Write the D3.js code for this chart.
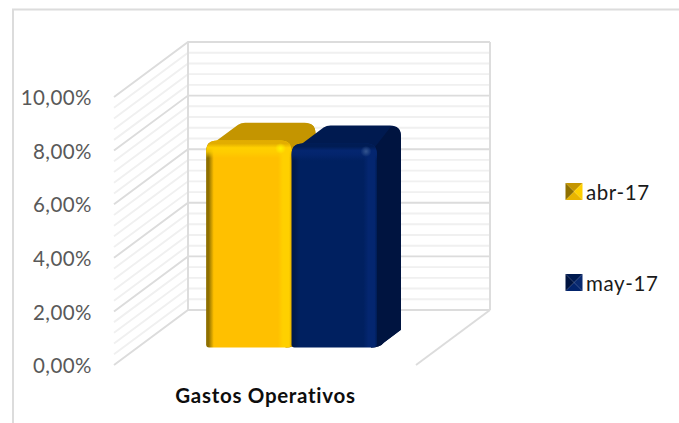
<!DOCTYPE html>
<html><head><meta charset="utf-8">
<script src="https://cdn.jsdelivr.net/npm/d3@7"></script>
<style>html,body{margin:0;padding:0;background:#fff}svg{display:block}text{font-family:Lato,"Open Sans",sans-serif}</style>
</head><body><svg id="c" width="679" height="423"></svg>
<script>
const categories = ["Gastos Operativos"];
const seriesNames = ["abr-17", "may-17"];
const seriesValues = [7.73, 7.62];
const majorTicks = [0, 2, 4, 6, 8, 10];
const minorTicks = [0.4,0.8,1.2,1.6,2.4,2.8,3.2,3.6,4.4,4.8,5.2,5.6,6.4,6.8,7.2,7.6,8.4,8.8,9.2,9.6];
const tickLabels = ["0,00%","2,00%","4,00%","6,00%","8,00%","10,00%"];
const palette = [
  {edge:"#8f7000",face:"#ffc000",hi:"#ffd000",spot:"#fff200",top:"#c49500",side:"#c49500",topEdge:"#e2ad00"},
  {edge:"#00194c",face:"#002060",hi:"#04267000",spot:"#34558f",top:"#001a50",side:"#001440",topEdge:"#001c54"}
];
palette[1].hi="#042670";
const svg = d3.select("#c");
const y = d3.scaleLinear().domain([0,10]).range([310,42]);
const xs = d3.scaleLinear().domain([0,1]).range([188,490]);
const DX=-74, DY=55;
const P=(u,v,z)=>[xs(u)+DX*z, y(v)+DY*z];
const line=d3.line();
const defs=svg.append("defs");

svg.append("path").attr("d","M13,423V9.5H679").attr("fill","none").attr("stroke","#dcdcdc").attr("stroke-width",2);

const minorC="#f0f0f0", majorC="#dcdcdc";
const wall=(t,c)=>svg.append("path").attr("d",line([P(0,t,1),P(0,t,0),P(1,t,0)])).attr("fill","none").attr("stroke",c).attr("stroke-width",1.9);
minorTicks.forEach(t=>wall(t,minorC));
majorTicks.forEach(t=>wall(t,majorC));
[[P(0,0,0),P(0,10,0)],[P(1,0,0),P(1,10,0)],[P(1,0,1),P(1,0,0)]].forEach(l=>
  svg.append("path").attr("d",line(l)).attr("fill","none").attr("stroke",majorC).attr("stroke-width",1.9));

const tickX=92;
majorTicks.forEach((t,i)=>{
  svg.append("text").attr("x",tickX).attr("y",P(0,t,1)[1]+1).attr("dy","0.35em").attr("text-anchor","end")
   .attr("font-size",20.5).attr("letter-spacing",0.45).attr("fill","#595959").text(tickLabels[i]);
});

const band=d3.scaleBand().domain(seriesNames).range([0.2276,0.7935]);
const zBack=0.36, zFront=0.684;
function grad(id,stops,dir){
  const g=defs.append("linearGradient").attr("id",id);
  if(dir==="v")g.attr("x1",0).attr("x2",0).attr("y1",0).attr("y2",1);
  stops.forEach(s=>{const st=g.append("stop").attr("offset",s[0]).attr("stop-color",s[1]);if(s[2]!==undefined)st.attr("stop-opacity",s[2]);});
  return `url(#${id})`;
}
const r=11;
seriesNames.forEach((name,i)=>{
  const c=palette[i], v=seriesValues[i];
  const u0=band(name), u1=u0+band.bandwidth();
  const fbl=P(u0,0,zFront), fbr=P(u1,0,zFront), ftl=P(u0,v,zFront), ftr=P(u1,v,zFront);
  const btl=P(u0,v,zBack), btr=P(u1,v,zBack), bbr=P(u1,0,zBack);
  const g=svg.append("g");
  // depth silhouette: top + side
  g.append("path").attr("d",`M${ftl[0]+8},${ftl[1]+2} L${btl[0]+8},${btl[1]+2} Q${btl[0]+11},${btl[1]} ${btl[0]+15},${btl[1]}
    L${btr[0]-r},${btr[1]} Q${btr[0]},${btr[1]} ${btr[0]},${btr[1]+r} L${bbr[0]},${bbr[1]}
    L${fbr[0]+7},${fbr[1]-5} Q${fbr[0]+3},${fbr[1]} ${fbr[0]-6},${fbr[1]} L${ftr[0]-4},${ftr[1]+6} Z`).attr("fill",c.top);
  g.append("path").attr("d",`M${ftr[0]-4},${ftr[1]+6} L${btr[0]-r+1},${btr[1]+1} Q${btr[0]},${btr[1]} ${btr[0]},${btr[1]+r}
    L${bbr[0]},${bbr[1]} L${fbr[0]+7},${fbr[1]-5} Q${fbr[0]+3},${fbr[1]} ${fbr[0]-6},${fbr[1]} Z`).attr("fill",c.side);
  // front face
  const facePath=`M${fbl[0]+3},${fbl[1]} Q${fbl[0]},${fbl[1]} ${fbl[0]},${fbl[1]-3} L${ftl[0]},${ftl[1]+r}
     Q${ftl[0]},${ftl[1]} ${ftl[0]+r},${ftl[1]} L${ftr[0]-r},${ftr[1]} Q${ftr[0]},${ftr[1]} ${ftr[0]},${ftr[1]+r}
     L${fbr[0]},${fbr[1]-3} Q${fbr[0]},${fbr[1]} ${fbr[0]-5},${fbr[1]} Z`;
  g.append("path").attr("d",facePath).attr("fill",grad("h"+i,[[0,c.edge],[0.03,c.edge],[0.09,c.face],[0.84,c.face],[0.9,c.hi],[0.97,c.hi],[1,c.topEdge]]));
  // top rounding glow, fades into the face
  g.append("path").attr("d",facePath).attr("fill",grad("v"+i,[[0,c.topEdge,1],[0.015,c.topEdge,1],[0.035,c.hi,1],[0.055,c.hi,0.8],[0.085,c.hi,0],[1,c.hi,0]],"v"));
  const rg=defs.append("radialGradient").attr("id","s"+i);
  rg.append("stop").attr("offset",0).attr("stop-color",c.spot);
  rg.append("stop").attr("offset",1).attr("stop-color",c.spot).attr("stop-opacity",0);
  g.append("circle").attr("cx",ftr[0]-11).attr("cy",ftr[1]+8).attr("r",5.5).attr("fill",`url(#s${i})`);
});

svg.append("text").attr("x",265.5).attr("y",402.5).attr("text-anchor","middle").attr("font-size",20.5).attr("letter-spacing",0.7).attr("font-weight",700).attr("fill","#0d0d0d").text(categories[0]);

const legendY=[191.5,282.5];
const triColors=[["#c49500","#ffd000","#e8b400","#8f7000"],["#001a50","#0a2a70","#03246c","#001440"]];
const centerColors=["#e0aa00","#0d2d70"];
seriesNames.forEach((name,i)=>{
  const yy=legendY[i], x0=565.5, s=17, h=s/2, cx=x0+h, g=svg.append("g");
  const verts=[[x0,yy-h],[x0+s,yy-h],[x0+s,yy+h],[x0,yy+h]];
  verts.forEach((p,k)=>{
    g.append("path").attr("d",line([p,verts[(k+1)%4],[cx,yy]])+"Z").attr("fill",triColors[i][k]);
  });
  svg.append("text").attr("x",586).attr("y",yy+1.5).attr("dy","0.35em").attr("font-size",20.5).attr("letter-spacing",0.6).attr("fill","#1a1a1a").text(name);
});
</script></body></html>
